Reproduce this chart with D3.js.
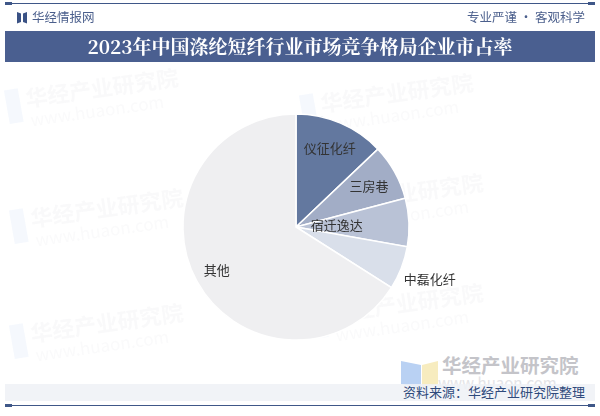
<!DOCTYPE html>
<html><head><meta charset="utf-8">
<script src="https://cdn.jsdelivr.net/npm/d3@7"></script>
<style>html,body{margin:0;padding:0;background:#fff;}svg{display:block;font-family:"Noto Sans CJK SC","Noto Sans",sans-serif;}</style>
</head><body>
<svg id="c" width="600" height="416"></svg>
<script>
const categories = ["仪征化纤","三房巷","宿迁逸达","中磊化纤","其他"];
const shares = [12.9, 8.0, 6.9, 6.2, 66.0];
const title = "2023年中国涤纶短纤行业市场竞争格局企业市占率";
const source = "资料来源：华经产业研究院整理";

const colors = ["#63789f","#a2adc6","#b9c2d6","#d9dfea","#efeff1"];
const labelRadiusFactor = [0.76, 0.74, 0.36, 1.27, 0.80];

const svg = d3.select("#c");

// watermarks
const wm = svg.append("g").attr("opacity",0.45);
[[25,95],[320,100],[30,215],[330,200],[30,330],[330,310]].forEach(([x,y])=>{
  wm.append("rect").attr("x",x-20).attr("y",y-8).attr("width",14).attr("height",34).attr("fill","#e9f0fb").attr("transform",`rotate(-10,${x},${y})`);
  wm.append("text").attr("x",x).attr("y",y+12).attr("font-size",22).attr("font-weight","bold").attr("fill","#f2f2f4").attr("transform",`rotate(-8,${x},${y})`).text("华经产业研究院");
  wm.append("text").attr("x",x+2).attr("y",y+32).attr("font-size",17).attr("fill","#f4f4f6").attr("transform",`rotate(-8,${x},${y})`).text("www.huaon.com");
});

// top line
svg.append("line").attr("x1",5).attr("x2",595).attr("y1",3.5).attr("y2",3.5).attr("stroke","#3f5788").attr("stroke-width",1.2);
svg.append("rect").attr("x",5).attr("y",2).attr("width",7).attr("height",3).attr("fill","#3f5788");
svg.append("rect").attr("x",588).attr("y",2).attr("width",7).attr("height",3).attr("fill","#3f5788");

// logo
svg.append("path").attr("d","M17,12 L21,13.5 L21,22 L17,23.5 Z").attr("fill","#3a5285");
svg.append("path").attr("d","M27,12 L23,13.5 L23,22 L27,23.5 Z").attr("fill","#3a5285");
svg.append("text").attr("x",32).attr("y",22).attr("font-size",12.5).attr("fill","#4b5f8c").text("华经情报网");
svg.append("text").attr("x",585).attr("y",22).attr("text-anchor","end").attr("font-size",12.5).attr("fill","#4b5f8c").text("专业严谨 • 客观科学");

// title band
svg.append("rect").attr("x",5).attr("y",31).attr("width",590).attr("height",31).attr("fill","#4a5f90");
svg.append("text").attr("x",300).attr("y",53.5).attr("text-anchor","middle").attr("font-size",19).attr("font-weight","bold").attr("fill","#fff").attr("font-family","'Noto Serif CJK SC','Noto Sans CJK SC',serif").text(title);

// pie
const cx = 296, cy = 227, R = 113;
const data = categories.map((c,i)=>({cat:c, v:shares[i], i}));
const pie = d3.pie().value(d=>d.v).sort(null);
const arc = d3.arc().innerRadius(0).outerRadius(R);
const g = svg.append("g").attr("transform",`translate(${cx},${cy})`);
const arcs = pie(data);
g.selectAll("path").data(arcs).join("path")
  .attr("d",arc).attr("fill",d=>colors[d.data.i]).attr("stroke","#fff").attr("stroke-width",1.5);
g.selectAll("text").data(arcs).join("text")
  .attr("transform",d=>{
    const a=(d.startAngle+d.endAngle)/2, r=R*labelRadiusFactor[d.data.i];
    return `translate(${Math.sin(a)*r},${-Math.cos(a)*r})`;
  })
  .attr("text-anchor","middle").attr("dy","0.35em")
  .attr("font-size",13).attr("fill","#333").text(d=>d.data.cat);

// bottom logo watermark
const bl = svg.append("g");
bl.append("path").attr("d","M401,361 L421,365 L421,388 L401,384 Z").attr("fill","#b9d1f3");
bl.append("path").attr("d","M422,365 L438,361 L438,384 L422,388 Z").attr("fill","#f7ecbf");
bl.append("text").attr("x",442).attr("y",373).attr("font-size",19.5).attr("font-weight","bold").attr("fill","#c4c4c9").text("华经产业研究院");
// footer band
svg.append("rect").attr("x",5).attr("y",384).attr("width",590).attr("height",17).attr("fill","#eef1f6").attr("opacity",0.85);
bl.append("text").attr("x",438).attr("y",389).attr("font-size",15).attr("fill","#d2d2d7").attr("opacity",0.6).text("www.huaon.com");
svg.append("text").attr("x",585).attr("y",397).attr("text-anchor","end").attr("font-size",13).attr("fill","#2f4a7c").text(source);
svg.append("line").attr("x1",5).attr("x2",595).attr("y1",405.5).attr("y2",405.5).attr("stroke","#3f5788").attr("stroke-width",1.2);
svg.append("rect").attr("x",5).attr("y",404).attr("width",7).attr("height",3).attr("fill","#3f5788");
svg.append("rect").attr("x",588).attr("y",404).attr("width",7).attr("height",3).attr("fill","#3f5788");
</script>
</body></html>
